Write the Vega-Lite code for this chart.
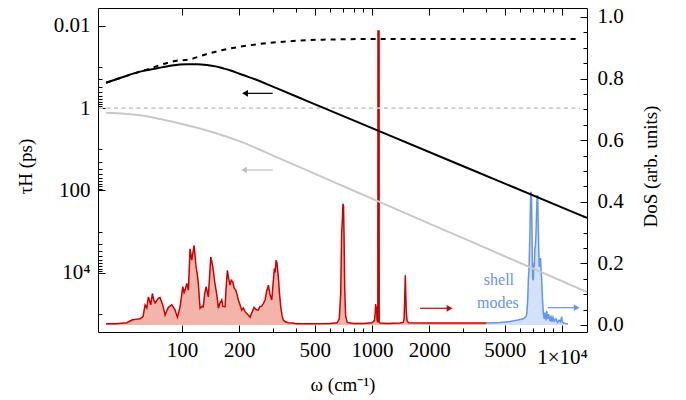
{
  "$schema": "https://vega.github.io/schema/vega-lite/v6.json",
  "width": 489,
  "height": 324,
  "autosize": "none",
  "padding": {"left": 98, "top": 8, "right": 99, "bottom": 68},
  "background": "white",
  "config": {
    "view": {"stroke": "#000000", "strokeWidth": 1},
    "font": "Liberation Serif",
    "axis": {
      "labelFont": "Liberation Serif", "titleFont": "Liberation Serif",
      "labelFontSize": 21, "titleFontSize": 19, "titleFontWeight": "normal",
      "labelColor": "#000000", "titleColor": "#000000", "tickColor": "#000000",
      "tickWidth": 1, "grid": false, "domain": false, "zindex": 1,
      "labelFlush": false, "labelOverlap": false
    }
  },
  "datasets": {
    "red": [
      {"w":39.8,"d":0.004},{"w":45,"d":0.004},{"w":51.2,"d":0.007},{"w":54.4,"d":0.016},{"w":57,"d":0.018},{"w":60.1,"d":0.02},{"w":62.3,"d":0.027},{"w":63.9,"d":0.065},{"w":65.2,"d":0.055},{"w":66.5,"d":0.091},{"w":68.4,"d":0.065},{"w":69.8,"d":0.102},{"w":71,"d":0.08},{"w":72.1,"d":0.071},{"w":75,"d":0.086},{"w":76.6,"d":0.089},{"w":79.1,"d":0.065},{"w":81.4,"d":0.032},{"w":83,"d":0.045},{"w":84.7,"d":0.057},{"w":88.3,"d":0.065},{"w":90,"d":0.058},{"w":91.9,"d":0.048},{"w":94.5,"d":0.025},{"w":96,"d":0.04},{"w":97.6,"d":0.059},{"w":100.9,"d":0.124},{"w":102.5,"d":0.105},{"w":103.7,"d":0.113},{"w":105.9,"d":0.135},{"w":108,"d":0.113},{"w":110.2,"d":0.247},{"w":112.5,"d":0.21},{"w":115.7,"d":0.258},{"w":118.5,"d":0.188},{"w":120,"d":0.17},{"w":121.8,"d":0.135},{"w":124.4,"d":0.054},{"w":127,"d":0.06},{"w":129.4,"d":0.059},{"w":131.5,"d":0.1},{"w":133.8,"d":0.124},{"w":137.5,"d":0.091},{"w":141.6,"d":0.22},{"w":144,"d":0.2},{"w":146.1,"d":0.177},{"w":148.5,"d":0.14},{"w":151,"d":0.113},{"w":153,"d":0.09},{"w":155.3,"d":0.054},{"w":158,"d":0.07},{"w":161.8,"d":0.081},{"w":164,"d":0.06},{"w":168.4,"d":0.059},{"w":170.5,"d":0.12},{"w":173.2,"d":0.177},{"w":176,"d":0.15},{"w":178.9,"d":0.129},{"w":181.5,"d":0.145},{"w":184.9,"d":0.14},{"w":188,"d":0.12},{"w":191.7,"d":0.113},{"w":194.5,"d":0.1},{"w":197.8,"d":0.081},{"w":202,"d":0.065},{"w":206.2,"d":0.048},{"w":210,"d":0.055},{"w":214.6,"d":0.043},{"w":221,"d":0.035},{"w":228,"d":0.025},{"w":233,"d":0.04},{"w":239.3,"d":0.057},{"w":245,"d":0.05},{"w":252.1,"d":0.048},{"w":257,"d":0.06},{"w":262.8,"d":0.061},{"w":268,"d":0.07},{"w":273.5,"d":0.081},{"w":279,"d":0.11},{"w":284.7,"d":0.129},{"w":290,"d":0.1},{"w":296.6,"d":0.081},{"w":301,"d":0.13},{"w":306.1,"d":0.183},{"w":309,"d":0.17},{"w":312.5,"d":0.21},{"w":316,"d":0.2},{"w":321.3,"d":0.156},{"w":326,"d":0.1},{"w":330.8,"d":0.059},{"w":336,"d":0.03},{"w":341.4,"d":0.016},{"w":350,"d":0.01},{"w":362.6,"d":0.007},{"w":380,"d":0.006},{"w":401.6,"d":0.004},{"w":500,"d":0.004},{"w":600,"d":0.005},{"w":655,"d":0.007},{"w":672,"d":0.02},{"w":684,"d":0.1},{"w":692,"d":0.3},{"w":698,"d":0.34},{"w":703,"d":0.393},{"w":708,"d":0.385},{"w":712,"d":0.3},{"w":718,"d":0.12},{"w":726,"d":0.03},{"w":740,"d":0.008},{"w":800,"d":0.005},{"w":900,"d":0.005},{"w":1000,"d":0.007},{"w":1030,"d":0.015},{"w":1040,"d":0.04},{"w":1045,"d":0.068},{"w":1050,"d":0.045},{"w":1056,"d":0.06},{"w":1062,"d":0.02},{"w":1068,"d":0.01},{"w":1073,"d":0.01},{"w":1075,"d":0.954},{"w":1089,"d":0.954},{"w":1091,"d":0.01},{"w":1100,"d":0.006},{"w":1200,"d":0.005},{"w":1400,"d":0.006},{"w":1460,"d":0.008},{"w":1475,"d":0.02},{"w":1487,"d":0.09},{"w":1497,"d":0.161},{"w":1505,"d":0.1},{"w":1515,"d":0.04},{"w":1530,"d":0.012},{"w":1560,"d":0.007},{"w":2000,"d":0.006},{"w":3000,"d":0.006},{"w":4000,"d":0.006}
    ],
    "blue": [
      {"w":3981,"d":0.006},{"w":4400,"d":0.007},{"w":4718,"d":0.008},{"w":5325,"d":0.011},{"w":5867,"d":0.016},{"w":6257,"d":0.02},{"w":6450,"d":0.026},{"w":6520,"d":0.035},{"w":6600,"d":0.08},{"w":6648,"d":0.145},{"w":6700,"d":0.18},{"w":6729,"d":0.22},{"w":6780,"d":0.3},{"w":6803,"d":0.35},{"w":6845,"d":0.43},{"w":6890,"d":0.43},{"w":6920,"d":0.4},{"w":6953,"d":0.3},{"w":6980,"d":0.2},{"w":7012,"d":0.15},{"w":7063,"d":0.145},{"w":7100,"d":0.2},{"w":7149,"d":0.188},{"w":7200,"d":0.25},{"w":7237,"d":0.253},{"w":7300,"d":0.3},{"w":7343,"d":0.36},{"w":7400,"d":0.419},{"w":7450,"d":0.419},{"w":7480,"d":0.35},{"w":7541,"d":0.25},{"w":7595,"d":0.188},{"w":7650,"d":0.215},{"w":7706,"d":0.215},{"w":7760,"d":0.18},{"w":7819,"d":0.145},{"w":7900,"d":0.08},{"w":7972,"d":0.04},{"w":8050,"d":0.02},{"w":8150,"d":0.04},{"w":8250,"d":0.015},{"w":8307,"d":0.045},{"w":8400,"d":0.02},{"w":8500,"d":0.035},{"w":8648,"d":0.012},{"w":8750,"d":0.03},{"w":8850,"d":0.01},{"w":8969,"d":0.025},{"w":9100,"d":0.012},{"w":9299,"d":0.02},{"w":9450,"d":0.008},{"w":9643,"d":0.015},{"w":9800,"d":0.01},{"w":9963,"d":0.027},{"w":10050,"d":0.008},{"w":10370,"d":0.005},{"w":10755,"d":0.003}
    ],
    "black": [
      {"w":39.8,"tau":0.24},{"w":47.2,"tau":0.184},{"w":60.1,"tau":0.129},{"w":73.9,"tau":0.107},{"w":88.6,"tau":0.0914},{"w":106,"tau":0.0855},{"w":120,"tau":0.0852},{"w":135,"tau":0.0889},{"w":150,"tau":0.096},{"w":164,"tau":0.107},{"w":180,"tau":0.121},{"w":202,"tau":0.147},{"w":225,"tau":0.175},{"w":248,"tau":0.206},{"w":300,"tau":0.298},{"w":400,"tau":0.52},{"w":532,"tau":0.9},{"w":1000,"tau":3.05},{"w":3000,"tau":25.5},{"w":13540,"tau":467}
    ],
    "blackdash": [
      {"w":39.8,"tau":0.24},{"w":47.2,"tau":0.184},{"w":60.1,"tau":0.129},{"w":68,"tau":0.108},{"w":76.6,"tau":0.0889},{"w":91.9,"tau":0.0711},{"w":110,"tau":0.0646},{"w":135,"tau":0.048},{"w":164,"tau":0.0384},{"w":202,"tau":0.032},{"w":248,"tau":0.0279},{"w":370,"tau":0.0235},{"w":552,"tau":0.0215},{"w":1100,"tau":0.0207},{"w":11990,"tau":0.0207}
    ],
    "gray": [
      {"w":39.8,"tau":1.287},{"w":50.1,"tau":1.361},{"w":60.1,"tau":1.488},{"w":76.6,"tau":1.831},{"w":110.2,"tau":2.711},{"w":149.2,"tau":4.012},{"w":202,"tau":6.425},{"w":328,"tau":16.93},{"w":601,"tau":57.1},{"w":1087,"tau":188.3},{"w":3282,"tau":1722},{"w":13540,"tau":29650}
    ],
    "graydash": [
      {"w":36.5,"tau":1},{"w":12400,"tau":1}
    ],
    "arrows_tau": [
      {"s":"black","w1":300,"wh":214.6,"tau":0.435},
      {"s":"gray","w1":300,"wh":212,"tau":31.9}
    ],
    "arrows_dos": [
      {"s":"red","w1":1790,"wh":2558,"d":0.054},
      {"s":"blue","w1":8430,"wh":11940,"d":0.056}
    ],
    "notes": [
      {"t":"shell","w":4656,"d":0.129},
      {"t":"modes","w":4600,"d":0.054}
    ]
  },
  "resolve": {
    "scale": {"x": "independent", "y": "independent"},
    "axis": {"x": "independent", "y": "independent"}
  },
  "layer": [
    {
      "data": {"name": "red"},
      "mark": {"type": "area", "color": "#f3b5aa", "opacity": 1, "clip": true},
      "encoding": {
        "x": {"field": "w", "type": "quantitative", "scale": {"type": "log", "domain": [36.1, 13540]},
          "axis": {"orient": "bottom", "values": [100,200,500,1000,2000,5000,10000], "tickSize": -7,
            "labelPadding": {"condition": {"test": "datum.value >= 10000", "value": 21}, "value": 14.5},
            "labelExpr": "datum.value >= 10000 ? '1×10⁴' : format(datum.value, 'd')",
            "title": "ω (cm⁻¹)", "titleX": 244.5, "titleY": 58, "titleBaseline": "alphabetic", "titleAlign": "center"}},
        "y": {"field": "d", "type": "quantitative", "stack": null, "scale": {"domain": [-0.023, 1.029]},
          "axis": {"orient": "right", "values": [0,0.2,0.4,0.6,0.8,1], "format": ".1f", "tickSize": -7, "labelPadding": 17,
            "title": "DoS (arb. units)", "titleAngle": -90, "titleX": 63, "titleY": 158, "titleBaseline": "middle", "titleAlign": "center"}}
      }
    },
    {
      "data": {"name": "blue"},
      "mark": {"type": "area", "color": "#d2e2fa", "opacity": 1, "clip": true},
      "encoding": {
        "x": {"field": "w", "type": "quantitative", "scale": {"type": "log", "domain": [36.1, 13540]},
          "axis": {"orient": "top", "values": [100,200,500,1000,2000,5000,10000], "tickSize": -7, "labels": false, "title": null}},
        "y": {"field": "d", "type": "quantitative", "stack": null, "scale": {"domain": [-0.023, 1.029]}, "axis": null}
      }
    },
    {
      "data": {"name": "red"},
      "mark": {"type": "line", "color": "#cc0000", "strokeWidth": 1.5, "clip": true},
      "encoding": {
        "x": {"field": "w", "type": "quantitative", "scale": {"type": "log", "domain": [36.1, 13540]},
          "axis": {"orient": "bottom", "values": [300,400,600,700,800,900,3000,4000,6000,7000,8000,9000], "tickSize": -4, "labels": false, "title": null}},
        "y": {"field": "d", "type": "quantitative", "scale": {"domain": [-0.023, 1.029]},
          "axis": {"orient": "right", "values": [0.05,0.1,0.15,0.25,0.3,0.35,0.45,0.5,0.55,0.65,0.7,0.75,0.85,0.9,0.95], "tickSize": -4, "labels": false, "title": null}}
      }
    },
    {
      "data": {"name": "blue"},
      "mark": {"type": "line", "color": "#6495ed", "strokeWidth": 1.5, "clip": true},
      "encoding": {
        "x": {"field": "w", "type": "quantitative", "scale": {"type": "log", "domain": [36.1, 13540]},
          "axis": {"orient": "top", "values": [300,400,600,700,800,900,3000,4000,6000,7000,8000,9000], "tickSize": -4, "labels": false, "title": null}},
        "y": {"field": "d", "type": "quantitative", "scale": {"domain": [-0.023, 1.029]}, "axis": null}
      }
    },
    {
      "data": {"name": "graydash"},
      "mark": {"type": "line", "color": "#cccccc", "strokeWidth": 1.7, "strokeDash": [4, 3.5], "clip": true},
      "encoding": {
        "x": {"field": "w", "type": "quantitative", "scale": {"type": "log", "domain": [36.1, 13540]}, "axis": null},
        "y": {"field": "tau", "type": "quantitative", "scale": {"type": "log", "domain": [0.00365, 278600], "reverse": true},
          "axis": {"orient": "left", "values": [0.1,0.2,0.3,0.4,0.5,0.6,0.7,0.8,0.9,10,20,30,40,50,60,70,80,90,1000,2000,3000,4000,5000,6000,7000,8000,9000,100000], "tickSize": -4, "labels": false, "title": null}}
      }
    },
    {
      "data": {"name": "gray"},
      "mark": {"type": "line", "color": "#c8c8c8", "strokeWidth": 2, "clip": true, "interpolate": "monotone"},
      "encoding": {
        "x": {"field": "w", "type": "quantitative", "scale": {"type": "log", "domain": [36.1, 13540]}, "axis": null},
        "y": {"field": "tau", "type": "quantitative", "scale": {"type": "log", "domain": [0.00365, 278600], "reverse": true}, "axis": null}
      }
    },
    {
      "data": {"name": "blackdash"},
      "mark": {"type": "line", "color": "#000000", "strokeWidth": 2, "strokeDash": [5, 5], "clip": true, "interpolate": "monotone"},
      "encoding": {
        "x": {"field": "w", "type": "quantitative", "scale": {"type": "log", "domain": [36.1, 13540]}, "axis": null},
        "y": {"field": "tau", "type": "quantitative", "scale": {"type": "log", "domain": [0.00365, 278600], "reverse": true}, "axis": null}
      }
    },
    {
      "data": {"name": "black"},
      "mark": {"type": "line", "color": "#000000", "strokeWidth": 2, "clip": true, "interpolate": "monotone"},
      "encoding": {
        "x": {"field": "w", "type": "quantitative", "scale": {"type": "log", "domain": [36.1, 13540]}, "axis": null},
        "y": {"field": "tau", "type": "quantitative", "scale": {"type": "log", "domain": [0.00365, 278600], "reverse": true},
          "axis": {"orient": "left", "values": [0.01,1,100,10000], "tickSize": -7, "labelPadding": 15,
            "labelExpr": "datum.value >= 10000 ? '10⁴' : datum.value >= 1 ? format(datum.value, 'd') : '0.01'",
            "title": "τH (ps)", "titleAngle": -90, "titleX": -73, "titleY": 158, "titleBaseline": "middle", "titleAlign": "center"}}
      }
    },
    {
      "data": {"name": "arrows_tau"},
      "transform": [{"filter": "datum.s == 'black'"}],
      "mark": {"type": "rule", "color": "#000000", "strokeWidth": 1.2},
      "encoding": {
        "x": {"field": "w1", "type": "quantitative", "scale": {"type": "log", "domain": [36.1, 13540]}, "axis": null},
        "x2": {"field": "wh"},
        "y": {"field": "tau", "type": "quantitative", "scale": {"type": "log", "domain": [0.00365, 278600], "reverse": true}, "axis": null}
      }
    },
    {
      "data": {"name": "arrows_tau"},
      "transform": [{"filter": "datum.s == 'black'"}],
      "mark": {"type": "point", "shape": "triangle-left", "filled": true, "color": "#000000", "size": 45, "opacity": 1},
      "encoding": {
        "x": {"field": "wh", "type": "quantitative", "scale": {"type": "log", "domain": [36.1, 13540]}, "axis": null},
        "y": {"field": "tau", "type": "quantitative", "scale": {"type": "log", "domain": [0.00365, 278600], "reverse": true}, "axis": null}
      }
    },
    {
      "data": {"name": "arrows_tau"},
      "transform": [{"filter": "datum.s == 'gray'"}],
      "mark": {"type": "rule", "color": "#c0c0c0", "strokeWidth": 1.2},
      "encoding": {
        "x": {"field": "w1", "type": "quantitative", "scale": {"type": "log", "domain": [36.1, 13540]}, "axis": null},
        "x2": {"field": "wh"},
        "y": {"field": "tau", "type": "quantitative", "scale": {"type": "log", "domain": [0.00365, 278600], "reverse": true}, "axis": null}
      }
    },
    {
      "data": {"name": "arrows_tau"},
      "transform": [{"filter": "datum.s == 'gray'"}],
      "mark": {"type": "point", "shape": "triangle-left", "filled": true, "color": "#c0c0c0", "size": 45, "opacity": 1},
      "encoding": {
        "x": {"field": "wh", "type": "quantitative", "scale": {"type": "log", "domain": [36.1, 13540]}, "axis": null},
        "y": {"field": "tau", "type": "quantitative", "scale": {"type": "log", "domain": [0.00365, 278600], "reverse": true}, "axis": null}
      }
    },
    {
      "data": {"name": "arrows_dos"},
      "transform": [{"filter": "datum.s == 'red'"}],
      "mark": {"type": "rule", "color": "#cc0000", "strokeWidth": 1.2},
      "encoding": {
        "x": {"field": "w1", "type": "quantitative", "scale": {"type": "log", "domain": [36.1, 13540]}, "axis": null},
        "x2": {"field": "wh"},
        "y": {"field": "d", "type": "quantitative", "scale": {"domain": [-0.023, 1.029]}, "axis": null}
      }
    },
    {
      "data": {"name": "arrows_dos"},
      "transform": [{"filter": "datum.s == 'red'"}],
      "mark": {"type": "point", "shape": "triangle-right", "filled": true, "color": "#cc0000", "size": 45, "opacity": 1},
      "encoding": {
        "x": {"field": "wh", "type": "quantitative", "scale": {"type": "log", "domain": [36.1, 13540]}, "axis": null},
        "y": {"field": "d", "type": "quantitative", "scale": {"domain": [-0.023, 1.029]}, "axis": null}
      }
    },
    {
      "data": {"name": "arrows_dos"},
      "transform": [{"filter": "datum.s == 'blue'"}],
      "mark": {"type": "rule", "color": "#6495ed", "strokeWidth": 1.2},
      "encoding": {
        "x": {"field": "w1", "type": "quantitative", "scale": {"type": "log", "domain": [36.1, 13540]}, "axis": null},
        "x2": {"field": "wh"},
        "y": {"field": "d", "type": "quantitative", "scale": {"domain": [-0.023, 1.029]}, "axis": null}
      }
    },
    {
      "data": {"name": "arrows_dos"},
      "transform": [{"filter": "datum.s == 'blue'"}],
      "mark": {"type": "point", "shape": "triangle-right", "filled": true, "color": "#6495ed", "size": 45, "opacity": 1},
      "encoding": {
        "x": {"field": "wh", "type": "quantitative", "scale": {"type": "log", "domain": [36.1, 13540]}, "axis": null},
        "y": {"field": "d", "type": "quantitative", "scale": {"domain": [-0.023, 1.029]}, "axis": null}
      }
    },
    {
      "data": {"name": "notes"},
      "mark": {"type": "text", "font": "Liberation Serif", "fontSize": 16, "color": "#6495ed", "align": "center", "baseline": "alphabetic"},
      "encoding": {
        "x": {"field": "w", "type": "quantitative", "scale": {"type": "log", "domain": [36.1, 13540]}, "axis": null},
        "y": {"field": "d", "type": "quantitative", "scale": {"domain": [-0.023, 1.029]}, "axis": null},
        "text": {"field": "t"}
      }
    }
  ]
}
